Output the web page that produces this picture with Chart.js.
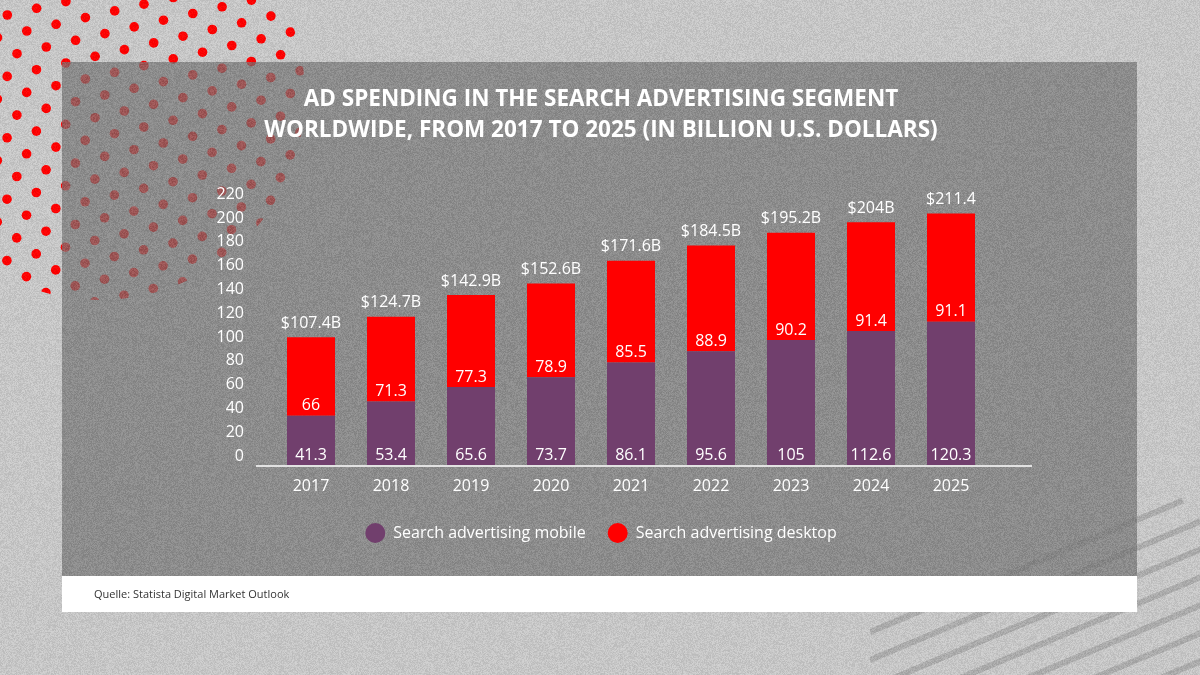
<!DOCTYPE html>
<html>
<head>
<meta charset="utf-8">
<script src="https://cdn.jsdelivr.net/npm/chart.js"></script>
<style>
  html, body { margin: 0; padding: 0; background: #c6c6c6; }
  #wrap { position: relative; width: 1200px; height: 675px; overflow: hidden; }
  #bg, #chart { position: absolute; left: 0; top: 0; }
  #source {
    position: absolute; left: 94px; top: 586px;
    font: 11px 'Open Sans', sans-serif; color: #333;
  }
</style>
</head>
<body>
<div id="wrap">
  <canvas id="bg" width="1200" height="675"></canvas>
  <canvas id="chart" width="1200" height="675"></canvas>
  <div id="source">Quelle: Statista Digital Market Outlook</div>
</div>
<script>
// data
const years = ['2017', '2018', '2019', '2020', '2021', '2022', '2023', '2024', '2025'];
const mobile = [41.3, 53.4, 65.6, 73.7, 86.1, 95.6, 105, 112.6, 120.3];
const desktop = [66, 71.3, 77.3, 78.9, 85.5, 88.9, 90.2, 91.4, 91.1];
const totalLabels = ['$107.4B', '$124.7B', '$142.9B', '$152.6B', '$171.6B', '$184.5B', '$195.2B', '$204B', '$211.4'];
const seriesNames = ['Search advertising mobile', 'Search advertising desktop'];
const yMax = 220;
const yStep = 20;

const PURPLE = '#713f6d';
const RED = '#ff0000';

// background: grey page, red dots, stripes, panel, footer, grain
function drawBackground() {
  const c = document.getElementById('bg');
  const ctx = c.getContext('2d');
  ctx.fillStyle = '#c6c6c6';
  ctx.fillRect(0, 0, 1200, 675);

  // stripes bottom right
  ctx.save();
  ctx.beginPath();
  ctx.rect(870, 0, 330, 675);
  ctx.clip();
  ctx.strokeStyle = '#ababab';
  ctx.lineWidth = 6;
  for (let i = 0; i < 10; i++) {
    const y0 = 632 + i * 28;
    const x1 = i === 0 ? 1183 : 1210;
    ctx.beginPath();
    ctx.moveTo(870, y0);
    ctx.lineTo(x1, y0 - 0.42 * (x1 - 870));
    ctx.stroke();
  }
  ctx.restore();

  // red dot lattice top left
  ctx.save();
  ctx.beginPath();
  ctx.arc(100, 95, 205, 0, Math.PI * 2);
  ctx.clip();
  ctx.fillStyle = RED;
  for (let a = -20; a < 20; a++) {
    for (let b = -20; b < 20; b++) {
      const x = 7.3 + a * 19.5 + b * 29.3;
      const y = 15 + a * 16 - b * 6.7;
      if (x < -10 || y < -10 || x > 360 || y > 360) continue;
      ctx.beginPath();
      ctx.arc(x, y, 4.8, 0, Math.PI * 2);
      ctx.fill();
    }
  }
  ctx.restore();

  // panel and footer
  ctx.fillStyle = 'rgba(118,118,118,0.72)';
  ctx.fillRect(62, 62, 1075, 514);
  ctx.fillStyle = '#ffffff';
  ctx.fillRect(62, 576, 1075, 36);

  // grain
  const img = ctx.getImageData(0, 0, 1200, 675);
  const d = img.data;
  let s = 12345;
  for (let i = 0; i < d.length; i += 4) {
    s ^= s << 13; s ^= s >>> 17; s ^= s << 5;
    const px = (i / 4) % 1200, py = Math.floor(i / 4 / 1200);
    if (py >= 576 && py < 612 && px >= 62 && px < 1137) continue;
    const n = ((s >>> 0) % 25) - 12;
    d[i] = Math.max(0, Math.min(255, d[i] + n));
    d[i + 1] = Math.max(0, Math.min(255, d[i + 1] + n));
    d[i + 2] = Math.max(0, Math.min(255, d[i + 2] + n));
  }
  ctx.putImageData(img, 0, 0);
}
drawBackground();

Chart.defaults.font.family = "'Open Sans', sans-serif";
Chart.defaults.color = '#ffffff';

// value labels inside and above bars, plus the baseline
const barLabels = {
  id: 'barLabels',
  afterDatasetsDraw(chart) {
    const ctx = chart.ctx;
    const area = chart.chartArea;
    const y0 = chart.scales.y.getPixelForValue(0);
    ctx.save();
    ctx.strokeStyle = '#e2e2e2';
    ctx.lineWidth = 2;
    ctx.beginPath();
    ctx.moveTo(area.left - 15, y0 + 1);
    ctx.lineTo(area.right + 41, y0 + 1);
    ctx.stroke();

    ctx.fillStyle = '#ffffff';
    ctx.font = "16px 'Open Sans', sans-serif";
    ctx.textAlign = 'center';
    ctx.textBaseline = 'middle';
    chart.data.datasets.forEach((ds, di) => {
      const meta = chart.getDatasetMeta(di);
      meta.data.forEach((bar, i) => {
        ctx.fillText(String(ds.data[i]), bar.x, bar.base - 10);
      });
    });
    const top = chart.getDatasetMeta(chart.data.datasets.length - 1);
    top.data.forEach((bar, i) => {
      ctx.fillText(totalLabels[i], bar.x, bar.y - 14);
    });
    ctx.restore();
  }
};

new Chart(document.getElementById('chart'), {
  type: 'bar',
  data: {
    labels: years,
    datasets: [{
      label: seriesNames[0],
      data: mobile,
      backgroundColor: PURPLE,
      borderWidth: 0
    }, {
      label: seriesNames[1],
      data: desktop,
      backgroundColor: RED,
      borderWidth: 0
    }]
  },
  options: {
    responsive: false,
    animation: false,
    devicePixelRatio: 1,
    categoryPercentage: 0.8,
    barPercentage: 0.75,
    layout: {
      padding: { top: 62, left: 211, right: 209, bottom: 124 }
    },
    scales: {
      x: {
        stacked: true,
        grid: { display: false },
        border: { display: false },
        ticks: { color: '#ffffff', font: { size: 16 }, padding: 4 },
        afterFit: s => { s.height = 38; }
      },
      y: {
        stacked: true,
        min: 0,
        max: yMax,
        grid: { display: false },
        border: { display: false },
        ticks: { stepSize: yStep, color: '#ffffff', font: { size: 16 }, padding: 19, labelOffset: -9 },
        afterFit: s => { s.width = 60; }
      }
    },
    plugins: {
      title: {
        display: true,
        text: ['AD SPENDING IN THE SEARCH ADVERTISING SEGMENT', 'WORLDWIDE, FROM 2017 TO 2025 (IN BILLION U.S. DOLLARS)'],
        color: '#ffffff',
        font: { size: 22.5, weight: 'bold', lineHeight: 1.37 },
        padding: { top: 22.6, bottom: 57 }
      },
      legend: {
        position: 'bottom',
        labels: {
          usePointStyle: true,
          pointStyle: 'circle',
          boxHeight: 14,
          pointStyleWidth: 20,
          padding: 22,
          color: '#ffffff',
          font: { size: 16 }
        }
      },
      tooltip: { enabled: false }
    }
  },
  plugins: [barLabels]
});
</script>
</body>
</html>
